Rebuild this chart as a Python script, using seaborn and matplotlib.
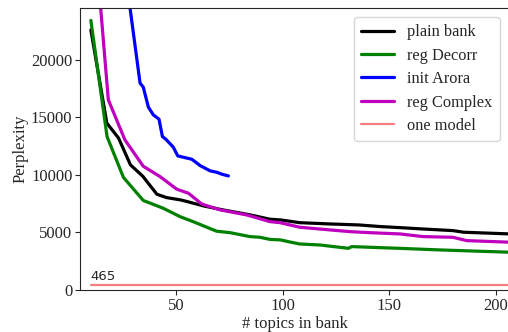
import matplotlib
matplotlib.use("Agg")
import matplotlib.pyplot as plt
import seaborn as sns
import pandas as pd

series_names = ["plain bank", "reg Decorr", "init Arora", "reg Complex", "one model"]
series_colors = ["black", "green", "blue", "#bf00bf", "#f47f7f"]

plain_x = [10, 17.5, 23, 28.6, 34.4, 41, 45.5, 52, 54.5, 63, 72, 85, 94, 99, 108, 122, 136, 146, 155, 166, 180, 185, 207]
plain_y = [22600, 14500, 13200, 10870, 9880, 8320, 8030, 7830, 7720, 7300, 6960, 6520, 6150, 6090, 5850, 5740, 5650, 5510, 5420, 5300, 5160, 5020, 4870]

decorr_x = [10, 17.6, 25.3, 34.6, 44, 51.9, 58, 69, 75.4, 84.7, 89.4, 94, 99, 104, 108, 117.6, 130.9, 132.5, 145.8, 155, 174, 207]
decorr_y = [23420, 13330, 9780, 7780, 7100, 6370, 5940, 5110, 4980, 4640, 4580, 4400, 4350, 4150, 4000, 3910, 3620, 3770, 3680, 3620, 3480, 3280]

arora_x = [25, 33.1, 34.6, 37, 39.3, 42, 43.6, 45.2, 48.7, 50.8, 57.4, 61.3, 66, 69.1, 71.5, 74.6]
arora_y = [29200, 17970, 17630, 15890, 15220, 14840, 13330, 13100, 12410, 11650, 11360, 10810, 10350, 10230, 10060, 9910]

complex_x = [10, 18.2, 26, 34.6, 42.5, 50.3, 55.8, 62, 64.4, 70.7, 83.2, 94.1, 98.8, 108.2, 122.3, 131.7, 141, 155.2, 166, 180, 186.5, 207]
complex_y = [34700, 16520, 13040, 10750, 9850, 8760, 8410, 7480, 7330, 6960, 6520, 5940, 5850, 5450, 5220, 5070, 4980, 4870, 4640, 4580, 4290, 4150]

one_model_x = [10, 207]
one_model_y = [465, 465]
one_model_label = "465"

xticks = [50, 100, 150, 200]
yticks = [0, 5000, 10000, 15000, 20000]

frames = []
for name, xs, ys in zip(series_names,
                        [plain_x, decorr_x, arora_x, complex_x, one_model_x],
                        [plain_y, decorr_y, arora_y, complex_y, one_model_y]):
    frames.append(pd.DataFrame({"x": xs, "y": ys, "series": name}))
df = pd.concat(frames, ignore_index=True)

sns.set_style("ticks")
plt.rcParams["font.family"] = ["Liberation Serif", "DejaVu Serif"]

fig = plt.figure(figsize=(5.08, 3.32), dpi=100)
ax = fig.add_axes([80 / 508, 42 / 332, 430 / 508, 282 / 332])

palette = dict(zip(series_names, series_colors))
sns.lineplot(data=df, x="x", y="y", hue="series", hue_order=series_names,
             palette=palette, sort=False, estimator=None, linewidth=2.3, ax=ax)
for line, name in zip(ax.get_lines(), series_names):
    if name == "one model":
        line.set_linewidth(1.6)

ax.text(one_model_x[0], one_model_y[0] + 120, one_model_label, family="DejaVu Sans",
        fontsize=9.5, ha="left", va="bottom")

ax.set_xlim(4.9, 206.8)
ax.set_ylim(0, 24500)
ax.set_xticks(xticks)
ax.set_yticks(yticks)
ax.tick_params(labelsize=12, length=3.5, pad=2)
ax.set_xlabel("# topics in bank", fontsize=12, labelpad=2)
ax.set_ylabel("Perplexity", fontsize=12, labelpad=2)
ax.spines["right"].set_visible(False)

handles, labels = ax.get_legend_handles_labels()
for h, n in zip(handles, labels):
    h.set_linewidth(1.6 if n == "one model" else 2.3)
ax.legend(handles, labels, loc="upper right", fontsize=11.8, frameon=True,
          bbox_to_anchor=(0.995, 0.997), borderpad=0.45, labelspacing=0.45)

fig.savefig("out.png", dpi=100)
